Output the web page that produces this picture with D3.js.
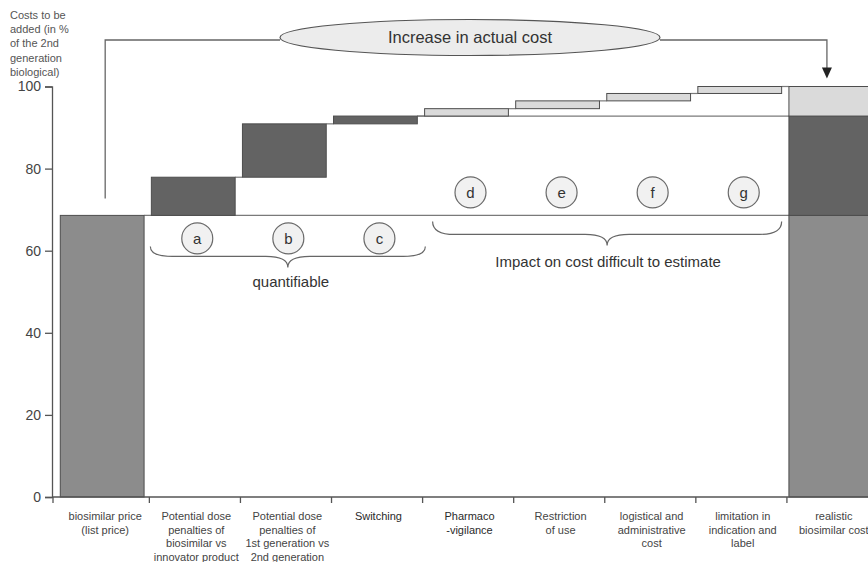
<!DOCTYPE html>
<html>
<head>
<meta charset="utf-8">
<script src="https://cdn.jsdelivr.net/npm/d3@7/dist/d3.min.js"></script>
<style>
  html, body { margin: 0; padding: 0; background: #fff; }
  svg { display: block; font-family: "Liberation Sans", Arial, sans-serif; }
</style>
</head>
<body>
<svg id="chart" width="868" height="562"></svg>
<script>
// Category labels along the x axis (one entry per line of text)
const categories = [
  ["biosimilar price", "(list price)"],
  ["Potential dose", "penalties of", "biosimilar vs", "innovator product"],
  ["Potential dose", "penalties of", "1st generation vs", "2nd generation"],
  ["Switching"],
  ["Pharmaco", "-vigilance"],
  ["Restriction", "of use"],
  ["logistical and", "administrative", "cost"],
  ["limitation in", "indication and", "label"],
  ["realistic", "biosimilar cost"]
];
const categoryKeys = categories.map(c => c.join(" "));

// Starting list price (% of 2nd generation biological)
const basePrice = 68.6;
// Cost increments added by each factor
const stepValues = [9.3, 13.0, 1.9, 1.8, 1.9, 1.8, 1.7];
const stepLetters = ["a", "b", "c", "d", "e", "f", "g"];
// true = quantifiable, false = impact difficult to estimate
const stepQuantifiable = [true, true, true, false, false, false, false];

const yTicks = [0, 20, 40, 60, 80, 100];
const yTitle = ["Costs to be", "added (in %", "of the 2nd", "generation", "biological)"];

const colBase = "#8c8c8c", colDark = "#636363", colLight = "#dadada";
const strokeCol = "#4d4d4d", lineCol = "#7a7a7a", textCol = "#444";

const svg = d3.select("#chart");

const x = d3.scaleBand().domain(categoryKeys).range([53, 880])
  .paddingInner(0.08).paddingOuter(0.08);
const y = d3.scaleLinear().domain([0, 100]).range([497, 86.5]);
const bw = x.bandwidth();

// Waterfall segments
let cum = basePrice;
const steps = stepValues.map((v, i) => {
  const s = { key: categoryKeys[i + 1], letter: stepLetters[i], y0: cum, y1: cum + v, q: stepQuantifiable[i] };
  cum += v;
  return s;
});
const qTotal = d3.sum(steps.filter(s => s.q), s => s.y1 - s.y0);
const oTotal = d3.sum(steps.filter(s => !s.q), s => s.y1 - s.y0);
const finalKey = categoryKeys[categoryKeys.length - 1];
const finalSegs = [
  { y0: 0, y1: basePrice, fill: colBase },
  { y0: basePrice, y1: basePrice + qTotal, fill: colDark },
  { y0: basePrice + qTotal, y1: basePrice + qTotal + oTotal, fill: colLight }
];

// Reference lines: base price level and the quantifiable total level
const qEnd = steps.filter(s => s.q).slice(-1)[0];
svg.append("line")
  .attr("x1", x(categoryKeys[0]) + bw).attr("x2", x(finalKey))
  .attr("y1", y(basePrice)).attr("y2", y(basePrice))
  .attr("stroke", lineCol).attr("stroke-width", 1.3);
svg.append("line")
  .attr("x1", x(qEnd.key) + bw).attr("x2", x(finalKey))
  .attr("y1", y(qEnd.y1)).attr("y2", y(qEnd.y1))
  .attr("stroke", lineCol).attr("stroke-width", 1.3);

// Connectors between consecutive steps
steps.forEach((s, i) => {
  const nextX = i < steps.length - 1 ? x(steps[i + 1].key) : x(finalKey);
  svg.append("line")
    .attr("x1", x(s.key) + bw).attr("x2", nextX)
    .attr("y1", y(s.y1)).attr("y2", y(s.y1))
    .attr("stroke", lineCol).attr("stroke-width", 1.2);
});

// Base price bar
svg.append("rect")
  .attr("x", x(categoryKeys[0])).attr("width", bw)
  .attr("y", y(basePrice)).attr("height", y(0) - y(basePrice))
  .attr("fill", colBase).attr("stroke", strokeCol).attr("stroke-width", 1);

// Step bars
svg.selectAll("rect.step").data(steps).join("rect")
  .attr("class", "step")
  .attr("x", d => x(d.key)).attr("width", bw)
  .attr("y", d => y(d.y1)).attr("height", d => y(d.y0) - y(d.y1))
  .attr("fill", d => d.q ? colDark : colLight)
  .attr("stroke", strokeCol).attr("stroke-width", 1);

// Final stacked bar
svg.selectAll("rect.final").data(finalSegs).join("rect")
  .attr("class", "final")
  .attr("x", x(finalKey)).attr("width", bw + 10)
  .attr("y", d => y(d.y1)).attr("height", d => y(d.y0) - y(d.y1))
  .attr("fill", d => d.fill).attr("stroke", strokeCol).attr("stroke-width", 1);

// Y axis
const yAxis = svg.append("g").attr("transform", "translate(52,0)")
  .call(d3.axisLeft(y).tickValues(yTicks).tickSize(7).tickSizeOuter(7).tickPadding(4));
yAxis.selectAll("path, line").attr("stroke", "#555").attr("stroke-width", 1.3);
yAxis.selectAll("text").attr("font-size", 14).attr("fill", textCol)
  .attr("font-family", "'Liberation Sans', Arial, sans-serif");

// Y axis title
svg.append("text").attr("x", 10).attr("y", 19)
  .attr("font-size", 11).attr("fill", "#555")
  .selectAll("tspan").data(yTitle).join("tspan")
  .attr("x", 10).attr("dy", (d, i) => i === 0 ? 0 : 14.2).text(d => d);

// X axis baseline and ticks at band boundaries
svg.append("line").attr("x1", 52).attr("x2", 868).attr("y1", y(0)).attr("y2", y(0))
  .attr("stroke", "#555").attr("stroke-width", 1.3);
const tickXs = categoryKeys.map((k, i) => i === 0 ? 53 : x(k) - 2);
svg.selectAll("line.xtick").data(tickXs).join("line")
  .attr("class", "xtick")
  .attr("x1", d => d).attr("x2", d => d)
  .attr("y1", y(0)).attr("y2", y(0) + 6)
  .attr("stroke", "#555").attr("stroke-width", 1.3);

// Category labels
const catG = svg.selectAll("text.cat").data(categories).join("text")
  .attr("class", "cat")
  .attr("text-anchor", "middle")
  .attr("font-size", 11)
  .attr("fill", (d, i) => (i === 3 || i === 4) ? "#2a2a2a" : textCol)
  .attr("transform", (d, i) => `translate(${x(categoryKeys[i]) + bw / 2 + 3},520)`);
catG.selectAll("tspan").data(d => d).join("tspan")
  .attr("x", 0).attr("dy", (d, i) => i === 0 ? 0 : 13.6).text(d => d);

// Letter markers for each step
const circY = s => s.q ? y(basePrice) + 23 : y(basePrice) - 23;
const circ = svg.selectAll("g.marker").data(steps).join("g")
  .attr("class", "marker")
  .attr("transform", d => `translate(${x(d.key) + bw / 2 + 4},${circY(d)})`);
circ.append("circle").attr("r", 15.5)
  .attr("fill", "#f1f1f1").attr("stroke", "#6a6a6a").attr("stroke-width", 1.2);
circ.append("text").attr("text-anchor", "middle").attr("dy", "0.36em")
  .attr("font-size", 15).attr("fill", "#333").text(d => d.letter);

// Curly braces grouping the steps
function brace(x1, x2, yTop, yLine, yTip) {
  const m = (x1 + x2) / 2, q = 22;
  return `M${x1},${yTop} Q${x1},${yLine} ${x1 + q},${yLine} L${m - q},${yLine} ` +
         `Q${m},${yLine} ${m},${yTip} Q${m},${yLine} ${m + q},${yLine} ` +
         `L${x2 - q},${yLine} Q${x2},${yLine} ${x2},${yTop}`;
}
const qSteps = steps.filter(s => s.q), oSteps = steps.filter(s => !s.q);
const b1x1 = x(qSteps[0].key) - 1, b1x2 = x(qSteps[qSteps.length - 1].key) + bw + 8;
const b2x1 = x(oSteps[0].key) + 8, b2x2 = x(oSteps[oSteps.length - 1].key) + bw;
svg.append("path").attr("d", brace(b1x1, b1x2, y(basePrice) + 31, y(basePrice) + 41, y(basePrice) + 52))
  .attr("fill", "none").attr("stroke", "#666").attr("stroke-width", 1.2);
svg.append("path").attr("d", brace(b2x1, b2x2, y(basePrice) + 6, y(basePrice) + 19, y(basePrice) + 30))
  .attr("fill", "none").attr("stroke", "#666").attr("stroke-width", 1.2);
svg.append("text").attr("x", (b1x1 + b1x2) / 2 + 3).attr("y", y(basePrice) + 72)
  .attr("text-anchor", "middle").attr("font-size", 15).attr("fill", "#333").text("quantifiable");
svg.append("text").attr("x", (b2x1 + b2x2) / 2 + 1).attr("y", y(basePrice) + 52)
  .attr("text-anchor", "middle").attr("font-size", 15).attr("fill", "#333")
  .text("Impact on cost difficult to estimate");

// "Increase in actual cost" connector from list price to realistic cost
const lx = x(categoryKeys[0]) + bw / 2 + 3;
const rx = x(finalKey) + 38;
const topY = 40, ell = { cx: 470, cy: 37.5, rx: 190, ry: 18 };
svg.append("path")
  .attr("d", `M${lx},${y(basePrice) - 17} L${lx},${topY} L${ell.cx - ell.rx},${topY}`)
  .attr("fill", "none").attr("stroke", "#666").attr("stroke-width", 1.3);
svg.append("path")
  .attr("d", `M${ell.cx + ell.rx},${topY} L${rx},${topY} L${rx},${y(100) - 18}`)
  .attr("fill", "none").attr("stroke", "#666").attr("stroke-width", 1.3);
svg.append("path")
  .attr("d", `M${rx - 5},${y(100) - 19} L${rx + 5},${y(100) - 19} L${rx},${y(100) - 8} Z`)
  .attr("fill", "#222");
svg.append("ellipse").attr("cx", ell.cx).attr("cy", ell.cy).attr("rx", ell.rx).attr("ry", ell.ry)
  .attr("fill", "#ececec").attr("stroke", "#555").attr("stroke-width", 1.2);
svg.append("text").attr("x", ell.cx).attr("y", ell.cy).attr("dy", "0.36em")
  .attr("text-anchor", "middle").attr("font-size", 16.5).attr("fill", "#333")
  .text("Increase in actual cost");
</script>
</body>
</html>
